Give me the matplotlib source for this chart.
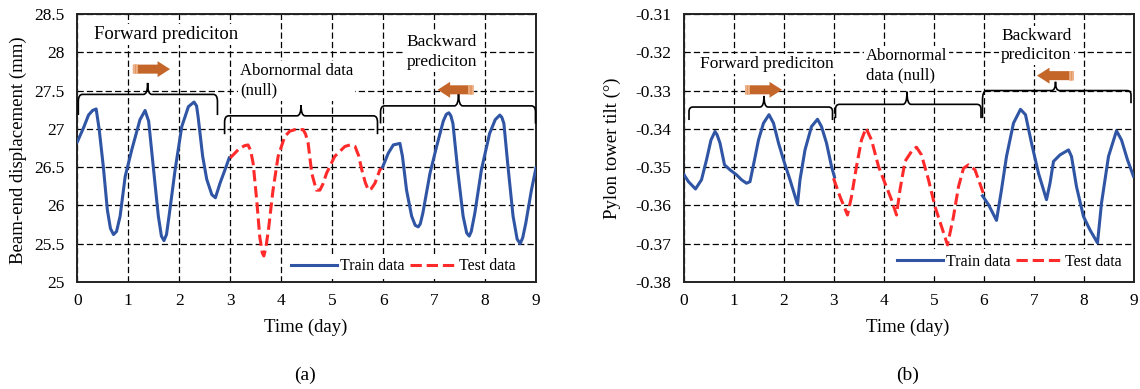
"""
Beam-end displacement / pylon tower tilt: train data (forward + backward
prediction windows) vs. abnormal test data in the middle window.
"""

import matplotlib
matplotlib.use('Agg')
import matplotlib.pyplot as plt
from matplotlib.path import Path
from matplotlib.patches import PathPatch, FancyArrowPatch

# ---------------- data ----------------
# (a) beam-end displacement, mm
beam_fwd_day = [0.00, 0.12, 0.22, 0.30, 0.37, 0.43, 0.51, 0.59, 0.65, 0.71, 0.77, 0.84,
                0.94, 1.07, 1.23, 1.33, 1.40, 1.49, 1.59, 1.65, 1.70, 1.75, 1.80, 1.92,
                2.05, 2.18, 2.29, 2.34, 2.37, 2.46, 2.54, 2.64, 2.71, 2.80, 2.90, 2.98]
beam_fwd_mm = [26.83, 27.01, 27.18, 27.24, 27.26, 26.99, 26.51, 25.94, 25.70, 25.62, 25.66, 25.86,
               26.38, 26.73, 27.12, 27.24, 27.10, 26.51, 25.86, 25.60, 25.54, 25.62, 25.86, 26.47,
               27.03, 27.29, 27.35, 27.30, 27.16, 26.64, 26.34, 26.14, 26.10, 26.29, 26.47, 26.62]

beam_null_day = [3.00, 3.16, 3.28, 3.35, 3.40, 3.45, 3.52, 3.58, 3.63, 3.66, 3.70, 3.75,
                 3.84, 3.94, 4.07, 4.17, 4.27, 4.43, 4.48, 4.53, 4.60, 4.69, 4.76, 4.82,
                 4.89, 5.05, 5.25, 5.35, 5.45, 5.52, 5.58, 5.65, 5.71, 5.77, 5.84, 5.94, 6.00]
beam_null_mm = [26.62, 26.73, 26.78, 26.79, 26.72, 26.55, 26.07, 25.59, 25.38, 25.34, 25.45, 25.68,
                26.20, 26.64, 26.90, 26.97, 26.99, 26.99, 26.93, 26.81, 26.42, 26.20, 26.20, 26.28,
                26.42, 26.64, 26.77, 26.79, 26.77, 26.65, 26.47, 26.30, 26.20, 26.22, 26.29, 26.47, 26.50]

beam_bwd_day = [5.99, 6.10, 6.20, 6.33, 6.38, 6.46, 6.56, 6.63, 6.69, 6.73, 6.78, 6.92,
                7.05, 7.18, 7.24, 7.29, 7.33, 7.37, 7.47, 7.57, 7.64, 7.69, 7.73, 7.80,
                7.93, 8.09, 8.20, 8.29, 8.33, 8.37, 8.45, 8.55, 8.63, 8.69, 8.74, 8.80, 8.91, 9.00]
beam_bwd_mm = [26.50, 26.68, 26.79, 26.81, 26.64, 26.20, 25.86, 25.74, 25.72, 25.76, 25.90, 26.42,
               26.77, 27.10, 27.19, 27.21, 27.17, 27.07, 26.42, 25.86, 25.64, 25.60, 25.66, 25.90,
               26.47, 26.94, 27.12, 27.18, 27.15, 27.07, 26.51, 25.86, 25.56, 25.50, 25.58, 25.77, 26.20, 26.49]

# (b) pylon tower tilt, degrees
tilt_fwd_day = [0.00, 0.09, 0.23, 0.35, 0.45, 0.54, 0.62, 0.66, 0.72, 0.81, 0.92, 1.05,
                1.15, 1.25, 1.32, 1.41, 1.49, 1.59, 1.70, 1.79, 1.89, 1.99, 2.12, 2.27,
                2.32, 2.42, 2.55, 2.67, 2.75, 2.85, 2.95, 3.01]
tilt_fwd_deg = [-0.3520, -0.3538, -0.3557, -0.3533, -0.3481, -0.3429, -0.3407, -0.3415, -0.3437,
                -0.3494, -0.3507, -0.3520, -0.3533, -0.3542, -0.3538, -0.3481, -0.3429, -0.3385,
                -0.3363, -0.3385, -0.3437, -0.3481, -0.3533, -0.3597, -0.3533, -0.3455, -0.3394,
                -0.3375, -0.3394, -0.3437, -0.3498, -0.3526]

tilt_null_day = [2.99, 3.12, 3.27, 3.35, 3.45, 3.55, 3.64, 3.75, 3.89, 4.02, 4.15, 4.25,
                 4.32, 4.42, 4.57, 4.65, 4.75, 4.89, 5.02, 5.15, 5.27, 5.39, 5.49, 5.59,
                 5.69, 5.82, 5.94, 6.01]
tilt_null_deg = [-0.3529, -0.3577, -0.3625, -0.3577, -0.3498, -0.3429, -0.3398, -0.3429, -0.3498,
                 -0.3542, -0.3585, -0.3625, -0.3559, -0.3485, -0.3455, -0.3448, -0.3468, -0.3533,
                 -0.3603, -0.3655, -0.3703, -0.3629, -0.3551, -0.3503, -0.3494, -0.3507, -0.3551,
                 -0.3577]

tilt_bwd_day = [5.97, 6.09, 6.25, 6.35, 6.45, 6.59, 6.73, 6.83, 6.95, 7.09, 7.25, 7.32,
                7.39, 7.52, 7.69, 7.75, 7.85, 7.99, 8.12, 8.27, 8.35, 8.49, 8.65, 8.75,
                8.87, 8.99]
tilt_bwd_deg = [-0.3575, -0.3598, -0.3639, -0.3559, -0.3472, -0.3385, -0.3349, -0.3363, -0.3437,
                -0.3516, -0.3585, -0.3542, -0.3485, -0.3468, -0.3455, -0.3472, -0.3551, -0.3629,
                -0.3664, -0.3698, -0.3594, -0.3472, -0.3405, -0.3429, -0.3481, -0.3524]

day_ticks = list(range(10))
beam_ticks = [25, 25.5, 26, 26.5, 27, 27.5, 28, 28.5]
beam_ticklabels = ['25', '25.5', '26', '26.5', '27', '27.5', '28', '28.5']
tilt_ticks = [-0.38, -0.37, -0.36, -0.35, -0.34, -0.33, -0.32, -0.31]
tilt_ticklabels = ['-0.38', '-0.37', '-0.36', '-0.35', '-0.34', '-0.33', '-0.32', '-0.31']

# ---------------- style ----------------
plt.rcParams['font.family'] = ['Liberation Serif', 'DejaVu Serif']
BLUE = '#2F55A4'
RED = '#FF2A2A'
ARROW = '#C4662A'
GRID_DASH = (0, (5, 2.5))


def draw_brace(ax, x0, x1, xc, y_line, y_end0, y_end1, y_tip, rx):
    """Curly brace: ends hook downwards, centre points up."""
    h0 = y_line + 0.35 * (y_end0 - y_line)
    h1 = y_line + 0.35 * (y_end1 - y_line)
    verts = [(x0, y_end0), (x0, h0), (x0, y_line), (x0 + rx, y_line),
             (xc - rx, y_line), (xc, y_line), (xc, y_tip),
             (xc, y_line), (xc + rx, y_line),
             (x1 - rx, y_line), (x1, y_line), (x1, h1), (x1, y_end1)]
    codes = [Path.MOVETO, Path.LINETO, Path.CURVE3, Path.CURVE3,
             Path.LINETO, Path.CURVE3, Path.CURVE3,
             Path.CURVE3, Path.CURVE3,
             Path.LINETO, Path.CURVE3, Path.CURVE3, Path.LINETO]
    ax.add_patch(PathPatch(Path(verts, codes), facecolor='none', edgecolor='black',
                           lw=1.2, zorder=5, clip_on=False))


def draw_arrow(ax, x_tail, x_head, y):
    ax.add_patch(FancyArrowPatch(
        (x_tail, y), (x_head, y),
        arrowstyle='simple,head_length=9,head_width=11.5,tail_width=6.5',
        mutation_scale=1, color=ARROW, lw=0, shrinkA=0, shrinkB=0, zorder=6))
    # light stripes on the tail end
    step = 0.035 if x_head > x_tail else -0.035
    for k, c in enumerate(['#F6C8A6', '#EFA877', '#F3BB92']):
        ax.plot([x_tail + step * (k + 0.5)], [y], marker='|', ms=6.5, mew=1.1,
                color=c, zorder=7)


def style_axes(ax, yticks, yticklabels, ylim):
    ax.set_xlim(0, 9)
    ax.set_ylim(*ylim)
    ax.set_xticks(day_ticks)
    ax.set_yticks(yticks)
    ax.set_yticklabels(yticklabels)
    ax.tick_params(length=0, labelsize=12.5, pad=8)
    ax.tick_params(axis='y', pad=9)
    ax.grid(True, color='black', lw=0.9, linestyle=GRID_DASH)
    ax.set_axisbelow(True)
    for sp in ax.spines.values():
        sp.set_linewidth(1.4)
        sp.set_color('#222222')


def add_legend(ax, cx, cy):
    ax.legend(loc='center', bbox_to_anchor=(cx, cy), ncol=2, frameon=True,
              fontsize=11.5, handlelength=2.9, handletextpad=0.2,
              columnspacing=0.3, borderpad=0.3, borderaxespad=0,
              framealpha=1, facecolor='white', edgecolor='none')


def main():
    fig = plt.figure(figsize=(11.4, 3.89), dpi=100)
    W, H = 1140.0, 389.0
    ax_a = fig.add_axes([77.3 / W, 1 - 282 / H, (536 - 77.3) / W, (282 - 14) / H])
    ax_b = fig.add_axes([684 / W, 1 - 282 / H, (1134 - 684) / W, (282 - 14) / H])

    text_box = dict(facecolor='white', edgecolor='none', pad=1.5)

    # ---- (a) beam-end displacement ----
    ax = ax_a
    ax.plot(beam_fwd_day, beam_fwd_mm, color=BLUE, lw=2.2, zorder=3, label='Train data')
    ax.plot(beam_null_day, beam_null_mm, color=RED, lw=2.2, ls='--', zorder=3, label='Test data')
    ax.plot(beam_bwd_day, beam_bwd_mm, color=BLUE, lw=2.2, zorder=3)
    style_axes(ax, beam_ticks, beam_ticklabels, (25, 28.5))
    add_legend(ax, 0.711, 0.058)

    ax.text(0.33, 28.23, 'Forward prediciton', fontsize=13.5, ha='left', va='center',
            bbox=text_box, zorder=4)
    ax.text(3.19, 27.63, 'Abornormal data\n(null)', fontsize=12, ha='left', va='center',
            bbox=text_box, zorder=4, linespacing=1.35)
    ax.text(6.46, 28.00, 'Backward\nprediciton', fontsize=12.5, ha='left', va='center',
            bbox=text_box, zorder=4, linespacing=1.3)
    draw_brace(ax, 0.02, 2.75, 1.38, 27.45, 27.18, 27.18, 27.60, 0.08)
    draw_brace(ax, 2.89, 5.89, 4.39, 27.17, 26.93, 26.93, 27.31, 0.08)
    draw_brace(ax, 5.95, 8.99, 7.48, 27.30, 27.07, 27.07, 27.47, 0.08)
    draw_arrow(ax, 1.09, 1.82, 27.78)
    draw_arrow(ax, 7.78, 7.07, 27.51)

    # ---- (b) pylon tower tilt ----
    ax = ax_b
    ax.plot(tilt_fwd_day, tilt_fwd_deg, color=BLUE, lw=2.2, zorder=3, label='Train data')
    ax.plot(tilt_null_day, tilt_null_deg, color=RED, lw=2.2, ls='--', zorder=3, label='Test data')
    ax.plot(tilt_bwd_day, tilt_bwd_deg, color=BLUE, lw=2.2, zorder=3)
    style_axes(ax, tilt_ticks, tilt_ticklabels, (-0.38, -0.31))
    add_legend(ax, 0.723, 0.075)

    ax.text(0.32, -0.3231, 'Forward prediciton', fontsize=12.5, ha='left', va='center',
            bbox=text_box, zorder=4)
    ax.text(3.64, -0.3236, 'Abornormal\ndata (null)', fontsize=12, ha='left', va='center',
            bbox=text_box, zorder=4, linespacing=1.3)
    ax.text(6.34, -0.3183, 'Backward\nprediciton', fontsize=12.5, ha='left', va='center',
            bbox=text_box, zorder=4, linespacing=1.25)
    draw_brace(ax, 0.10, 2.97, 1.60, -0.3343, -0.3377, -0.3377, -0.3314, 0.08)
    draw_brace(ax, 3.03, 5.94, 4.46, -0.3336, -0.3372, -0.3372, -0.3303, 0.08)
    draw_brace(ax, 5.97, 8.94, 7.43, -0.3300, -0.3372, -0.3333, -0.3277, 0.08)
    draw_arrow(ax, 1.22, 1.96, -0.3298)
    draw_arrow(ax, 7.80, 7.06, -0.3261)

    # axis labels and captions placed in figure pixels
    def ftext(x, y, s, **kw):
        fig.text(x / W, 1 - y / H, s, ha='center', va='center', **kw)

    ftext(18, 150, 'Beam-end displacement (mm)', fontsize=13.5, rotation=90)
    ftext(612, 148, 'Pylon tower tilt (°)', fontsize=13.5, rotation=90)
    ftext(306, 327, 'Time (day)', fontsize=13.5)
    ftext(908, 327, 'Time (day)', fontsize=13.5)
    ftext(305, 375, '(a)', fontsize=14)
    ftext(908, 375, '(b)', fontsize=14)

    fig.savefig('out.png', dpi=100, facecolor='white')
    plt.close(fig)


if __name__ == '__main__':
    main()
